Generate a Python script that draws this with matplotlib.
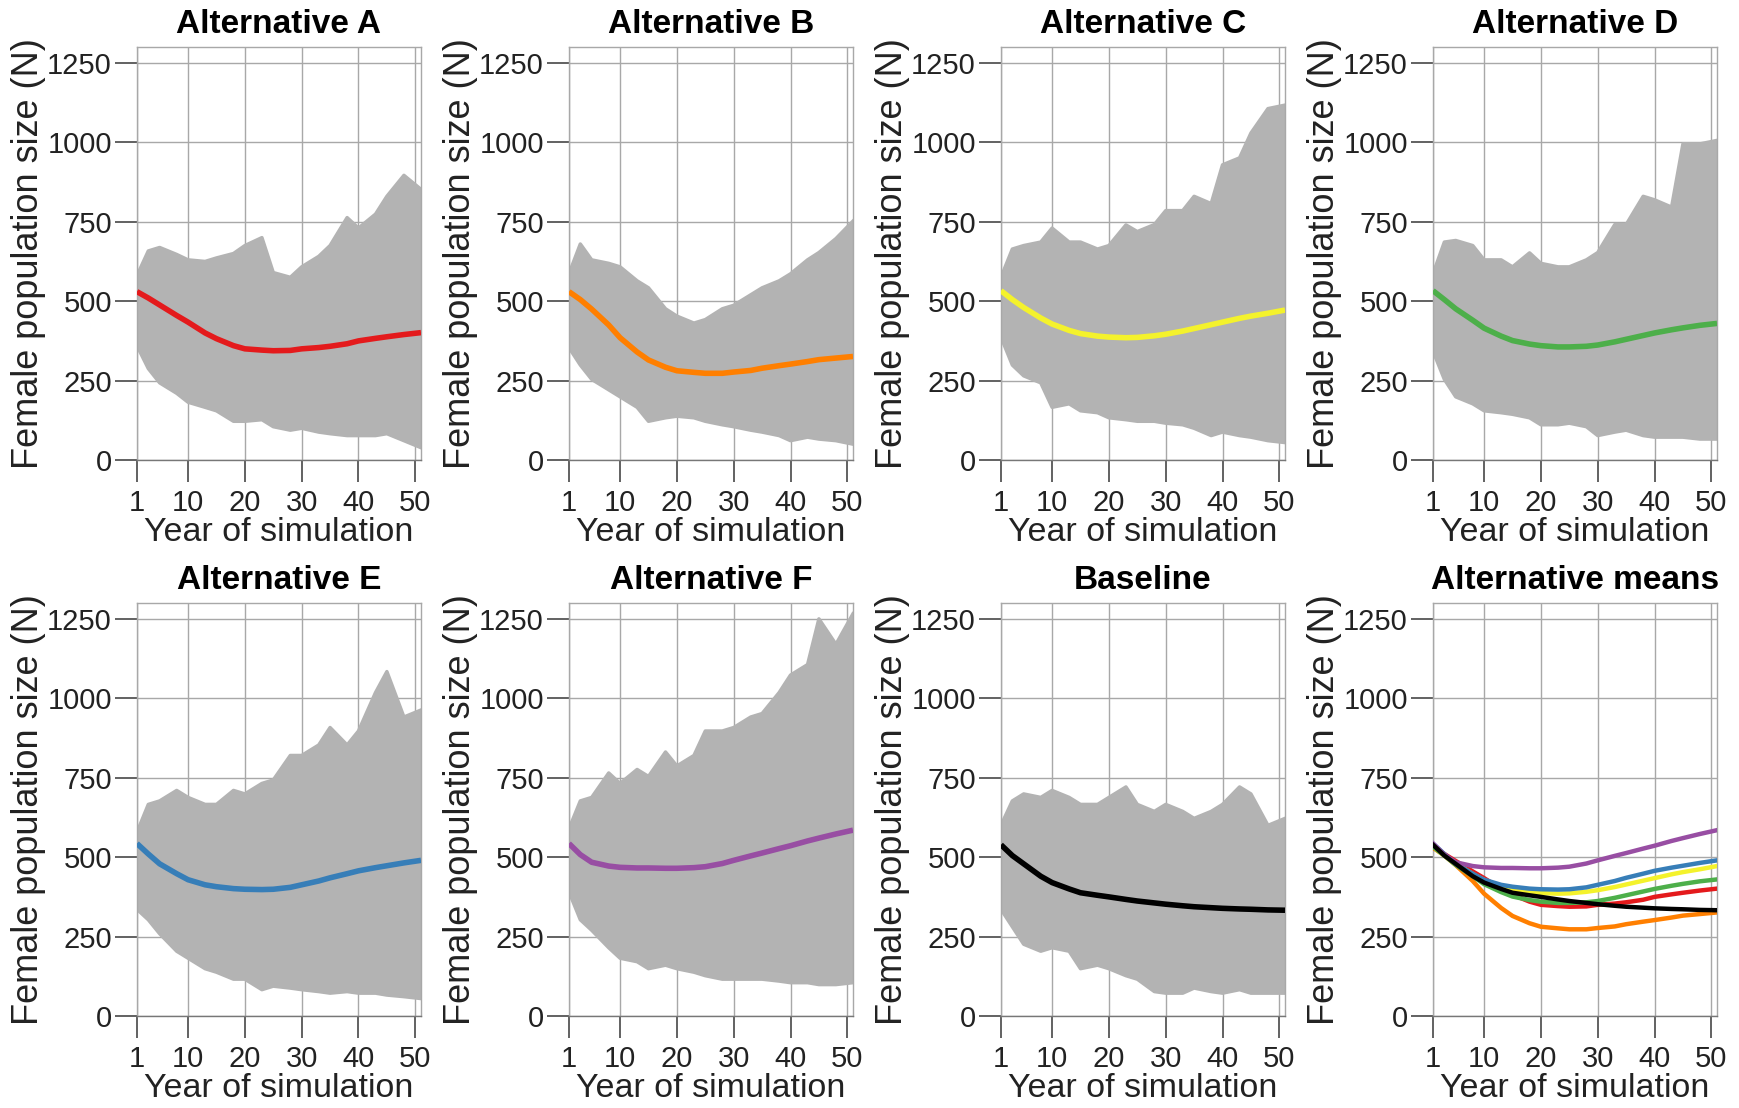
import matplotlib
matplotlib.use('Agg')
import matplotlib.pyplot as plt

plt.rcParams['font.family'] = ['Liberation Sans', 'DejaVu Sans']

# years at which the simulation envelope and the mean curves were read
years = [1, 3, 5, 8, 10, 13, 15, 18, 20, 23, 25, 28, 30, 33, 35, 38, 40, 43, 45, 48, 51]

titles = ['Alternative A', 'Alternative B', 'Alternative C', 'Alternative D',
          'Alternative E', 'Alternative F', 'Baseline']
colors = ['#e41a1c', '#ff7f00', '#f4f22c', '#4daf4a', '#377eb8', '#984ea3', '#000000']

# upper / lower edges of the grey bundle of simulation runs
upper_A = [580, 658, 669, 647, 630, 625, 636, 650, 675, 700, 590, 575, 608, 641, 675, 763, 730, 774, 830, 896, 852]
lower_A = [360, 288, 243, 210, 182, 166, 155, 122, 122, 127, 105, 94, 100, 88, 83, 77, 77, 77, 83, 61, 39]
upper_B = [586, 680, 630, 619, 608, 564, 542, 476, 453, 431, 442, 476, 487, 520, 542, 564, 586, 630, 653, 697, 752]
lower_B = [354, 299, 254, 221, 199, 166, 122, 133, 138, 133, 122, 111, 105, 94, 88, 77, 61, 72, 66, 61, 50]
upper_C = [575, 664, 675, 686, 730, 686, 686, 664, 675, 740, 719, 741, 785, 785, 830, 807, 929, 951, 1029, 1106, 1117]
lower_C = [387, 299, 265, 243, 166, 177, 155, 149, 133, 127, 122, 122, 116, 111, 100, 77, 88, 77, 72, 61, 55]
upper_D = [586, 686, 691, 675, 630, 630, 608, 652, 619, 608, 608, 630, 653, 741, 741, 830, 819, 796, 995, 995, 1006]
lower_D = [343, 254, 199, 177, 155, 149, 144, 133, 111, 111, 116, 105, 77, 88, 94, 77, 72, 72, 72, 66, 66]
upper_E = [578, 666, 677, 710, 688, 666, 666, 710, 699, 732, 743, 820, 820, 853, 908, 853, 897, 1018, 1084, 941, 963]
lower_E = [336, 303, 259, 204, 182, 149, 138, 116, 116, 83, 94, 88, 83, 77, 72, 77, 72, 72, 66, 61, 55]
upper_F = [589, 677, 688, 765, 732, 776, 754, 831, 787, 820, 897, 897, 908, 941, 952, 1018, 1073, 1106, 1250, 1170, 1266]
lower_F = [391, 303, 270, 215, 182, 171, 149, 160, 149, 138, 127, 116, 116, 116, 116, 110, 105, 105, 99, 99, 105]
upper_Base = [600, 677, 699, 688, 710, 688, 666, 666, 688, 721, 666, 644, 666, 644, 622, 644, 666, 721, 699, 600, 622]
lower_Base = [336, 281, 226, 204, 215, 204, 149, 160, 149, 127, 116, 77, 72, 72, 88, 77, 72, 83, 72, 72, 72]

# mean trajectories
mean_A = [530, 510, 488, 455, 434, 400, 382, 360, 350, 346, 344, 345, 350, 354, 358, 366, 375, 383, 388, 395, 401]
mean_B = [530, 505, 475, 425, 385, 340, 315, 292, 281, 276, 273, 273, 277, 282, 289, 297, 302, 310, 316, 321, 326]
mean_C = [533, 505, 480, 447, 428, 408, 398, 390, 387, 385, 386, 391, 396, 406, 414, 426, 434, 446, 453, 462, 472]
mean_D = [533, 505, 476, 440, 415, 390, 376, 365, 360, 356, 356, 358, 362, 372, 380, 392, 400, 410, 416, 424, 430]
mean_E = [543, 510, 479, 448, 429, 413, 407, 401, 399, 398, 399, 405, 413, 425, 435, 448, 457, 467, 473, 482, 490]
mean_F = [543, 508, 484, 472, 468, 466, 466, 465, 465, 467, 470, 480, 490, 504, 513, 527, 536, 551, 560, 573, 585]
mean_Base = [539, 505, 479, 440, 420, 400, 388, 380, 375, 367, 362, 356, 352, 347, 344, 341, 339, 337, 336, 334, 333]

uppers = [upper_A, upper_B, upper_C, upper_D, upper_E, upper_F, upper_Base]
lowers = [lower_A, lower_B, lower_C, lower_D, lower_E, lower_F, lower_Base]
means = [mean_A, mean_B, mean_C, mean_D, mean_E, mean_F, mean_Base]

gray = '#b3b3b3'

fig, axes = plt.subplots(2, 4, figsize=(17.4, 11.08), dpi=100)
fig.subplots_adjust(left=0.0787, right=0.9868, top=0.9576, bottom=0.083,
                    wspace=0.521, hspace=0.346)
axes = axes.ravel()


def style_axis(ax, title):
    ax.set_xlim(1, 51)
    ax.set_ylim(0, 1300)
    ax.set_xticks([1, 10, 20, 30, 40, 50])
    ax.set_yticks([0, 250, 500, 750, 1000, 1250])
    ax.grid(True, color='#a8a8a8', lw=1.0)
    ax.set_axisbelow(True)
    for sp in ax.spines.values():
        sp.set_color('#a8a8a8')
        sp.set_linewidth(1.0)
    ax.spines['bottom'].set_color('#777777')
    ax.tick_params(direction='out', length=16, width=1.3, color='#555555',
                   labelsize=21, labelcolor='#222222', pad=2)
    ax.tick_params(axis='x', pad=5)
    ax.set_title(title, fontsize=24, fontweight='bold', pad=10)
    ax.set_xlabel('Year of simulation', fontsize=24.5, labelpad=0, color='#222222')
    ax.set_ylabel('Female population size (N)', fontsize=26, labelpad=1, color='#222222')


for i in range(7):
    ax = axes[i]
    ax.fill_between(years, lowers[i], uppers[i], color=gray, lw=0, zorder=2)
    ax.plot(years, uppers[i], color=gray, lw=2.5, zorder=2)
    ax.plot(years, lowers[i], color=gray, lw=2.5, zorder=2)
    ax.plot(years, means[i], color=colors[i], lw=4, solid_capstyle='butt', zorder=3)
    style_axis(ax, titles[i])

ax = axes[7]
for i in range(7):
    ax.plot(years, means[i], color=colors[i], lw=3.2, zorder=3)
style_axis(ax, 'Alternative means')

fig.savefig('out.png', dpi=100)
